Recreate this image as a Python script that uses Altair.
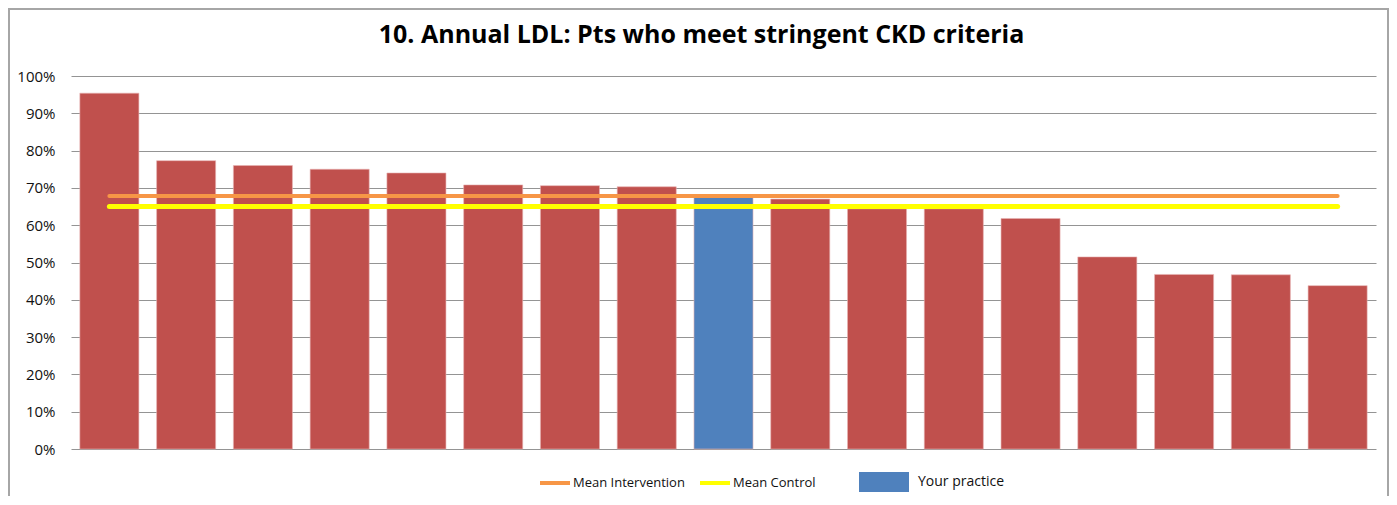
import altair as alt
import pandas as pd

# ---- data ----
practices = [f"P{i}" for i in range(1, 18)]
values = [95.4, 77.3, 76.0, 75.0, 74.0, 70.8, 70.6, 70.3, 67.5, 67.0,
          64.4, 64.4, 61.8, 51.5, 46.8, 46.7, 43.8]
groups = ["Other"] * 8 + ["Your practice"] + ["Other"] * 8

mean_labels = ["Mean Intervention", "Mean Control"]
mean_values = [67.8, 65.0]
mean_colors = ["#F79646", "#FFFF00"]
mean_widths = [4, 5]

y_ticks = list(range(0, 101, 10))

bars_df = pd.DataFrame({"practice": practices, "value": values, "group": groups})
means_df = pd.DataFrame({
    "series": mean_labels,
    "value": mean_values,
    "start": [practices[0]] * 2,
    "end": [practices[-1]] * 2,
})

FONT = "Open Sans"
W, H = 1305, 373

x_scale = alt.Scale(domain=practices, paddingInner=0.2308, paddingOuter=0.1154)
y_scale = alt.Scale(domain=[0, 100], nice=False)

bars = alt.Chart(bars_df).mark_bar(stroke="#E8B4B3", strokeWidth=0.6).encode(
    x=alt.X("practice:N", scale=x_scale, axis=None, sort=practices),
    y=alt.Y("value:Q", scale=y_scale, title=None,
            axis=alt.Axis(values=y_ticks, tickCount=20,
                          labelExpr="datum.value + '%'")),
    fill=alt.Fill("group:N",
                  scale=alt.Scale(domain=["Other", "Your practice"],
                                  range=["#C0504D", "#4F81BD"]),
                  legend=alt.Legend(orient="none", legendX=788, legendY=381,
                                    title=None, values=["Your practice"],
                                    symbolType="M-1,-0.4L1,-0.4L1,0.4L-1,0.4Z",
                                    symbolSize=2500, symbolStrokeWidth=0,
                                    labelFont=FONT, labelFontSize=14,
                                    labelOffset=9, labelColor="#111111")),
)

lines = alt.Chart(means_df).mark_rule(strokeCap="round").encode(
    x=alt.X("start:N", scale=x_scale, bandPosition=0.5, sort=practices, axis=None),
    x2=alt.X2("end:N", bandPosition=0.5),
    y=alt.Y("value:Q", scale=y_scale, title=None),
    stroke=alt.Stroke("series:N",
                      scale=alt.Scale(domain=mean_labels, range=mean_colors),
                      sort=mean_labels,
                      legend=alt.Legend(orient="none", legendX=467, legendY=390,
                                        direction="horizontal", title=None,
                                        symbolType="stroke", symbolSize=900,
                                        symbolStrokeWidth=4,
                                        labelFont=FONT, labelFontSize=13,
                                        labelOffset=1, columnPadding=7,
                                        labelColor="#111111")),
    strokeWidth=alt.StrokeWidth("series:N",
                                scale=alt.Scale(domain=mean_labels, range=mean_widths),
                                legend=None),
)

border = alt.Chart(pd.DataFrame({"k": [0]})).mark_rect(
    fillOpacity=0, stroke="#A6A6A6", strokeWidth=2
).encode(
    x=alt.value(-62), x2=alt.value(W + 12),
    y=alt.value(-67), y2=alt.value(H + 80),
)

chart = alt.layer(border, bars, lines).resolve_scale(
    fill="independent", stroke="independent"
).properties(
    width=W, height=H,
    autosize=alt.AutoSizeParams(type="none"),
    padding={"left": 63, "top": 68, "right": 13, "bottom": 47},
    title=alt.TitleParams(
        "10. Annual LDL: Pts who meet stringent CKD criteria",
        font=FONT, fontSize=25, fontWeight="bold", color="#000000",
        anchor="middle", frame="group", dx=-22, offset=-60,
        baseline="alphabetic",
    ),
).configure_view(stroke=None).configure_axisY(
    grid=True, gridColor="#949494", gridWidth=1,
    domain=False, ticks=False, labelPadding=16, labelOverlap=False,
    labelFont=FONT, labelFontSize=15, labelColor="#111111",
)

chart.save("out.html", embed_options={"renderer": "svg", "actions": False})
